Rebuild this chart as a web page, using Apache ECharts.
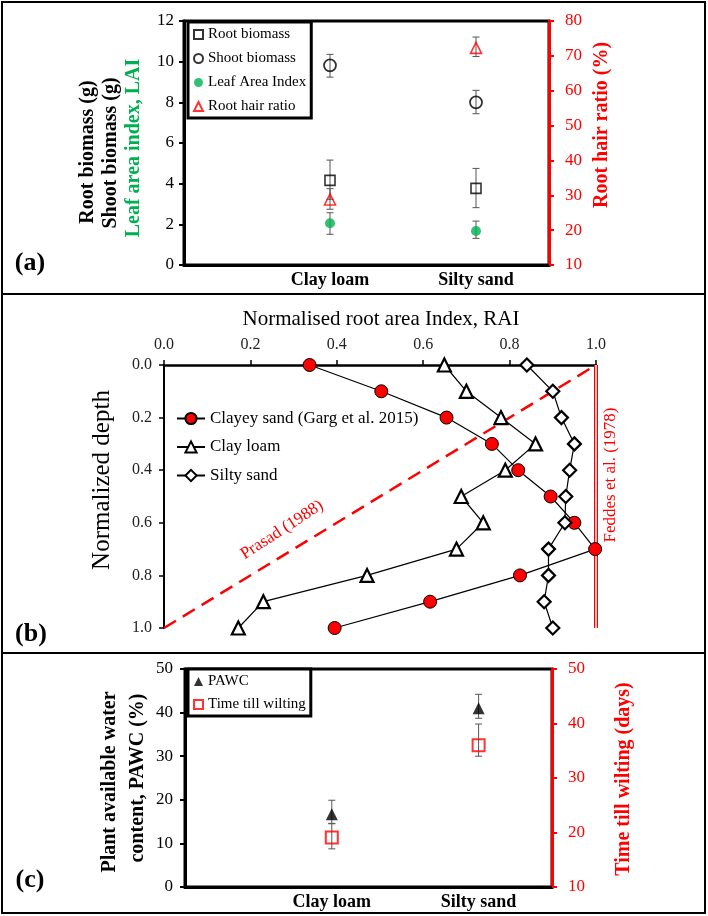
<!DOCTYPE html>
<html>
<head>
<meta charset="utf-8">
<script src="https://cdn.jsdelivr.net/npm/echarts@6/dist/echarts.min.js"></script>
<style>
html,body{margin:0;padding:0;background:#fff;}
#chart{width:708px;height:916px;}
</style>
</head>
<body>
<div id="chart"></div>
<script>
// ---------- data ----------
const categories = ['Clay loam', 'Silty sand'];
const catX = [1, 2];

// panel (a)
const rootBiomass   = [4.16, 3.77];
const rootBiomassLo = [3.23, 2.82];
const rootBiomassHi = [5.16, 4.75];
const shootBiomass   = [9.82, 8.00];
const shootBiomassLo = [9.24, 7.44];
const shootBiomassHi = [10.36, 8.59];
const leafAreaIndex   = [2.05, 1.67];
const leafAreaIndexLo = [1.51, 1.31];
const leafAreaIndexHi = [2.57, 2.16];
const rootHairRatio   = [28.8, 72.3];
const rootHairRatioLo = [26.0, 69.8];
const rootHairRatioHi = [31.9, 75.4];

// panel (b)
const depth = [0.0, 0.1, 0.2, 0.3, 0.4, 0.5, 0.6, 0.7, 0.8, 0.9, 1.0];
const raiClayeySand = [0.337, 0.503, 0.654, 0.759, 0.820, 0.895, 0.950, 0.998, 0.824, 0.616, 0.395];
const raiClayLoam   = [0.649, 0.700, 0.780, 0.860, 0.790, 0.688, 0.739, 0.677, 0.470, 0.230, 0.172];
const raiSiltySand  = [0.840, 0.900, 0.920, 0.950, 0.939, 0.930, 0.928, 0.890, 0.890, 0.880, 0.900];
const prasadRAI   = [0, 1];
const prasadDepth = [1, 0];
const feddesRAI   = [1, 1];
const feddesDepth = [0, 1];

// panel (c)
const pawc   = [16.7, 41.0];
const pawcLo = [14.6, 38.7];
const pawcHi = [19.9, 44.2];
const timeWilting   = [19.1, 36.0];
const timeWiltingLo = [17.0, 34.0];
const timeWiltingHi = [21.6, 39.9];

// ---------- chart ----------
const FONT = "'Liberation Serif','Times New Roman',serif";
const chart = echarts.init(document.getElementById('chart'), null, {renderer: 'canvas'});

function pts(xs, ys) { return xs.map((x, i) => [x, ys[i]]); }
function catFmt(v) { const i = catX.indexOf(v); return i >= 0 ? categories[i] : ''; }

function errSeries(xi, yi, lo, hi) {
  return {
    type: 'custom', xAxisIndex: xi, yAxisIndex: yi, z: 1, silent: true,
    encode: {x: 0, y: [1, 2]},
    data: catX.map((x, i) => [x, lo[i], hi[i]]),
    renderItem: function (params, api) {
      const a = api.coord([api.value(0), api.value(1)]);
      const b = api.coord([api.value(0), api.value(2)]);
      const w = 3.5;
      const st = {stroke: '#555', lineWidth: 1};
      return {type: 'group', children: [
        {type: 'line', shape: {x1: a[0], y1: a[1], x2: b[0], y2: b[1]}, style: st},
        {type: 'line', shape: {x1: a[0] - w, y1: a[1], x2: a[0] + w, y2: a[1]}, style: st},
        {type: 'line', shape: {x1: b[0] - w, y1: b[1], x2: b[0] + w, y2: b[1]}, style: st}
      ]};
    }
  };
}

function catXAxis(gi) {
  return {
    gridIndex: gi, type: 'value', min: 0, max: 2.5, interval: 0.5,
    axisLine: {show: true, lineStyle: {color: '#000', width: 3}},
    axisTick: {show: false}, splitLine: {show: false},
    axisLabel: {formatter: catFmt, fontFamily: FONT, fontWeight: 'bold', fontSize: 18, color: '#000', margin: 6}
  };
}
function valYAxis(gi, pos, min, max, interval, color, margin) {
  return {
    gridIndex: gi, type: 'value', position: pos, min: min, max: max, interval: interval,
    axisLine: {show: true, lineStyle: {color: color, width: 3}},
    axisTick: {show: true, length: 5, lineStyle: {color: color, width: 2}},
    splitLine: {show: false},
    axisLabel: {fontFamily: FONT, fontSize: 17, color: color, margin: margin}
  };
}

const titleStyle = (t, color, size, weight) => ({
  text: t, fill: color, font: (weight || '') + ' ' + size + 'px ' + FONT,
  textAlign: 'center', textVerticalAlign: 'middle'
});
function vText(x, y, t, color, size, weight) {
  return {type: 'text', x: x, y: y, rotation: Math.PI / 2, style: titleStyle(t, color, size, weight), z: 10};
}

const option = {
  animation: false,
  backgroundColor: '#fff',
  grid: [
    {left: 184, top: 21, width: 365, height: 244, show: true, borderColor: '#000', borderWidth: 3},
    {left: 164, top: 365, width: 432, height: 263},
    {left: 185, top: 669, width: 367, height: 218, show: true, borderColor: '#000', borderWidth: 3}
  ],
  xAxis: [
    catXAxis(0),
    {
      gridIndex: 1, type: 'value', position: 'top', min: 0, max: 1, interval: 0.2,
      axisLine: {show: true, lineStyle: {color: '#000', width: 2.5}},
      axisTick: {show: true, length: 5, lineStyle: {color: '#000', width: 1.5}},
      splitLine: {show: false},
      axisLabel: {formatter: v => v.toFixed(1), fontFamily: FONT, fontSize: 16, color: '#222', margin: 12}
    },
    catXAxis(2)
  ],
  yAxis: [
    valYAxis(0, 'left', 0, 12, 2, '#000', 10),
    valYAxis(0, 'right', 10, 80, 10, '#f00', 16),
    {
      gridIndex: 1, type: 'value', inverse: true, min: 0, max: 1, interval: 0.2,
      axisLine: {show: true, lineStyle: {color: '#000', width: 2}},
      axisTick: {show: true, length: 5, lineStyle: {color: '#000', width: 1.5}},
      splitLine: {show: false},
      axisLabel: {formatter: v => v.toFixed(1), fontFamily: FONT, fontSize: 16, color: '#222', margin: 12}
    },
    valYAxis(2, 'left', 0, 50, 10, '#000', 12),
    valYAxis(2, 'right', 10, 50, 10, '#f00', 16)
  ],
  legend: [
    {
      data: ['Root biomass', 'Shoot biomass', 'Leaf Area Index', 'Root hair ratio'],
      orient: 'vertical', left: 188, top: 22, padding: [5, 5, 4, 5], itemGap: 9,
      itemWidth: 9, itemHeight: 9, borderColor: '#000', borderWidth: 3, backgroundColor: '#fff',
      selectedMode: false, textStyle: {fontFamily: FONT, fontSize: 15, color: '#000'}
    },
    {
      data: ['Clayey sand (Garg et al. 2015)', 'Clay loam', 'Silty sand'],
      orient: 'vertical', left: 176, top: 410, padding: 0, itemGap: 11.5,
      itemWidth: 28, itemHeight: 14, selectedMode: false,
      textStyle: {fontFamily: FONT, fontSize: 17, color: '#000'}
    },
    {
      data: ['PAWC', 'Time till wilting'],
      orient: 'vertical', left: 188, top: 669, padding: [5, 5, 4, 5], itemGap: 8,
      itemWidth: 9, itemHeight: 9, borderColor: '#000', borderWidth: 3, backgroundColor: '#fff',
      selectedMode: false, textStyle: {fontFamily: FONT, fontSize: 15, color: '#000'}
    }
  ],
  series: [
    // ----- (a)
    errSeries(0, 0, rootBiomassLo, rootBiomassHi),
    errSeries(0, 0, shootBiomassLo, shootBiomassHi),
    errSeries(0, 0, leafAreaIndexLo, leafAreaIndexHi),
    errSeries(0, 1, rootHairRatioLo, rootHairRatioHi),
    {name: 'Root biomass', type: 'scatter', xAxisIndex: 0, yAxisIndex: 0, z: 3,
      symbol: 'rect', symbolSize: 10, data: pts(catX, rootBiomass),
      itemStyle: {color: 'rgba(0,0,0,0)', borderColor: '#000', borderWidth: 1.6}},
    {name: 'Shoot biomass', type: 'scatter', xAxisIndex: 0, yAxisIndex: 0, z: 3,
      symbol: 'circle', symbolSize: 12, data: pts(catX, shootBiomass),
      itemStyle: {color: 'rgba(0,0,0,0)', borderColor: '#000', borderWidth: 1.8}},
    {name: 'Leaf Area Index', type: 'scatter', xAxisIndex: 0, yAxisIndex: 0, z: 3,
      symbol: 'circle', symbolSize: 10, data: pts(catX, leafAreaIndex),
      itemStyle: {color: '#00b050'}},
    {name: 'Root hair ratio', type: 'scatter', xAxisIndex: 0, yAxisIndex: 1, z: 3,
      symbol: 'triangle', symbolSize: 11, data: pts(catX, rootHairRatio),
      itemStyle: {color: 'rgba(0,0,0,0)', borderColor: '#f00', borderWidth: 1.6}},
    // ----- (b)
    {name: 'Prasad', type: 'line', xAxisIndex: 1, yAxisIndex: 2, z: 1, silent: true,
      data: pts(prasadRAI, prasadDepth), symbol: 'none',
      lineStyle: {color: '#f00', width: 2.5, type: [14, 8]}},
    {name: 'FeddesOuter', type: 'line', xAxisIndex: 1, yAxisIndex: 2, z: 1, silent: true,
      data: pts(feddesRAI, feddesDepth), symbol: 'none',
      lineStyle: {color: '#f00', width: 4}},
    {name: 'FeddesInner', type: 'line', xAxisIndex: 1, yAxisIndex: 2, z: 1, silent: true,
      data: pts(feddesRAI, feddesDepth), symbol: 'none',
      lineStyle: {color: '#fff', width: 1.5}},
    {name: 'Clayey sand (Garg et al. 2015)', type: 'line', xAxisIndex: 1, yAxisIndex: 2, z: 3,
      data: pts(raiClayeySand, depth), symbol: 'circle', symbolSize: 13,
      lineStyle: {color: '#000', width: 1.2},
      itemStyle: {color: '#f00', borderColor: '#000', borderWidth: 1}},
    {name: 'Clay loam', type: 'line', xAxisIndex: 1, yAxisIndex: 2, z: 3,
      data: pts(raiClayLoam, depth), symbol: 'triangle', symbolSize: 13,
      lineStyle: {color: '#000', width: 1.2},
      itemStyle: {color: '#fff', borderColor: '#000', borderWidth: 2.2}},
    {name: 'Silty sand', type: 'line', xAxisIndex: 1, yAxisIndex: 2, z: 3,
      data: pts(raiSiltySand, depth), symbol: 'diamond', symbolSize: 13,
      lineStyle: {color: '#000', width: 1.2},
      itemStyle: {color: '#fff', borderColor: '#000', borderWidth: 2.2}},
    // ----- (c)
    errSeries(2, 3, pawcLo, pawcHi),
    errSeries(2, 4, timeWiltingLo, timeWiltingHi),
    {name: 'PAWC', type: 'scatter', xAxisIndex: 2, yAxisIndex: 3, z: 3,
      symbol: 'triangle', symbolSize: 12, data: pts(catX, pawc),
      itemStyle: {color: '#000'}},
    {name: 'Time till wilting', type: 'scatter', xAxisIndex: 2, yAxisIndex: 4, z: 3,
      symbol: 'rect', symbolSize: 12, data: pts(catX, timeWilting),
      itemStyle: {color: 'rgba(0,0,0,0)', borderColor: '#f00', borderWidth: 2}}
  ],
  graphic: [
    {type: 'rect', shape: {x: 2, y: 2, width: 703, height: 911}, style: {fill: 'none', stroke: '#000', lineWidth: 2}, z: 20},
    {type: 'line', shape: {x1: 2, y1: 294, x2: 705, y2: 294}, style: {stroke: '#000', lineWidth: 2}, z: 20},
    {type: 'line', shape: {x1: 2, y1: 653, x2: 705, y2: 653}, style: {stroke: '#000', lineWidth: 2}, z: 20},
    {type: 'text', x: 30, y: 263, style: titleStyle('(a)', '#000', 26, 'bold'), z: 10},
    {type: 'text', x: 31, y: 634, style: titleStyle('(b)', '#000', 26, 'bold'), z: 10},
    {type: 'text', x: 30, y: 880, style: titleStyle('(c)', '#000', 26, 'bold'), z: 10},
    vText(88, 152, 'Root biomass (g)', '#000', 20, 'bold'),
    vText(111, 153, 'Shoot biomass (g)', '#000', 20, 'bold'),
    vText(134, 148, 'Leaf area index, LAI', '#00b050', 20, 'bold'),
    vText(602, 125, 'Root hair ratio (%)', '#f00', 20, 'bold'),
    {type: 'text', x: 381, y: 319, style: titleStyle('Normalised root area Index, RAI', '#000', 21), z: 10},
    vText(102, 480, 'Normalized depth', '#000', 25),
    {type: 'text', x: 282, y: 530, rotation: 33 * Math.PI / 180, style: titleStyle('Prasad (1988)', '#f00', 17), z: 10},
    vText(611, 475, 'Feddes et al. (1978)', '#f00', 17),
    vText(110, 782, 'Plant available water', '#000', 20, 'bold'),
    vText(138, 778, 'content, PAWC (%)', '#000', 20, 'bold'),
    vText(624, 779, 'Time till wilting (days)', '#f00', 20, 'bold')
  ]
};
chart.setOption(option);
</script>
</body>
</html>
